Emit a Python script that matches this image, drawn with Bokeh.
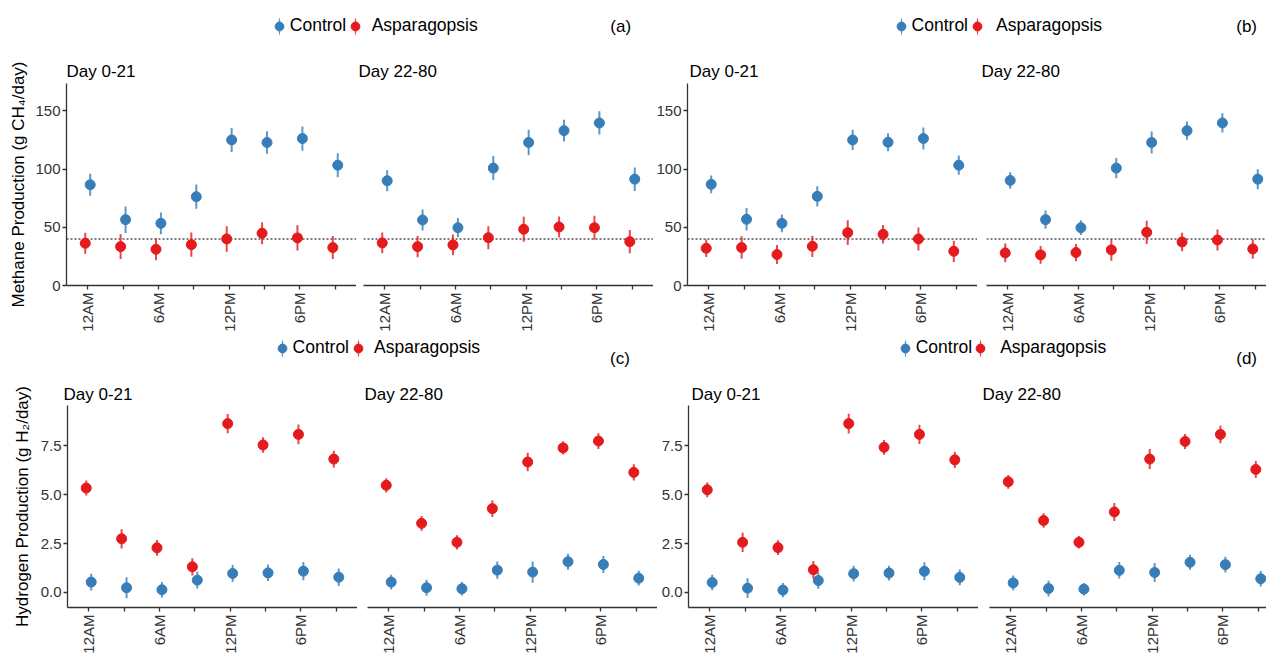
import numpy as np
from bokeh.plotting import figure
from bokeh.layouts import row, column
from bokeh.models import (ColumnDataSource, FixedTicker, Span, Label, Legend, LegendItem,
                          NumeralTickFormatter, BasicTickFormatter, Range1d, Title)
from bokeh.embed import file_html
from bokeh.resources import INLINE
from bokeh.transform import dodge

FONT = "Liberation Sans"
BLUE = "#377EB8"
RED = "#E41A1C"

# ---------------- data ----------------
times = ["12AM", "3AM", "6AM", "9AM", "12PM", "3PM", "6PM", "9PM"]
tick_labels = ["12AM", "", "6AM", "", "12PM", "", "6PM", ""]
groups = ["Control", "Asparagopsis"]
periods = ["Day 0-21", "Day 22-80"]

# (a) methane, g CH4/day
a_d1_ctrl = [86.6, 56.6, 53.4, 76.3, 125.1, 122.9, 126.3, 103.4]
a_d1_ctrl_se = [9.4, 11.4, 9.4, 10.4, 10.3, 9.7, 10.4, 10.3]
a_d1_asp = [36.3, 33.4, 31.1, 35.1, 40.0, 44.9, 40.9, 32.6]
a_d1_asp_se = [9.1, 10.7, 9.4, 10.4, 10.9, 9.4, 10.9, 9.9]
a_d2_ctrl = [90.0, 56.3, 49.7, 100.9, 122.9, 133.1, 139.7, 91.4]
a_d2_ctrl_se = [9.1, 9.1, 8.3, 10.3, 11.0, 9.4, 10.0, 10.1]
a_d2_asp = [36.6, 33.4, 34.9, 41.1, 48.3, 50.3, 49.7, 37.7]
a_d2_asp_se = [8.9, 9.1, 9.0, 9.9, 10.7, 9.1, 10.3, 9.9]

# (b) methane, g CH4/day
b_d1_ctrl = [86.9, 56.9, 53.4, 76.6, 125.1, 123.1, 126.3, 103.4]
b_d1_ctrl_se = [7.6, 9.7, 7.7, 8.6, 8.7, 7.7, 9.4, 8.3]
b_d1_asp = [32.0, 32.6, 26.6, 33.7, 45.4, 44.0, 40.0, 29.4]
b_d1_asp_se = [7.6, 9.7, 8.1, 9.1, 10.7, 8.0, 9.9, 9.1]
b_d2_ctrl = [90.3, 56.6, 49.7, 100.9, 122.9, 133.1, 139.7, 91.4]
b_d2_ctrl_se = [7.1, 7.9, 6.3, 8.7, 9.4, 7.9, 8.3, 8.6]
b_d2_asp = [28.0, 26.3, 28.3, 30.6, 45.7, 37.4, 39.1, 31.4]
b_d2_asp_se = [8.1, 7.7, 7.4, 9.3, 10.0, 7.9, 9.0, 8.4]

# (c) hydrogen, g H2/day
c_d1_ctrl = [0.53, 0.24, 0.14, 0.63, 0.97, 1.00, 1.09, 0.78]
c_d1_ctrl_se = [0.43, 0.54, 0.40, 0.43, 0.43, 0.42, 0.46, 0.45]
c_d1_asp = [5.33, 2.74, 2.28, 1.31, 8.62, 7.53, 8.07, 6.81]
c_d1_asp_se = [0.38, 0.49, 0.40, 0.44, 0.49, 0.40, 0.50, 0.43]
c_d2_ctrl = [0.53, 0.24, 0.19, 1.14, 1.04, 1.57, 1.43, 0.73]
c_d2_ctrl_se = [0.38, 0.41, 0.34, 0.44, 0.54, 0.41, 0.43, 0.38]
c_d2_asp = [5.47, 3.53, 2.56, 4.28, 6.66, 7.38, 7.73, 6.13]
c_d2_asp_se = [0.36, 0.38, 0.36, 0.43, 0.47, 0.34, 0.40, 0.42]

# (d) hydrogen, g H2/day
d_d1_ctrl = [0.51, 0.22, 0.12, 0.61, 0.96, 0.99, 1.08, 0.77]
d_d1_ctrl_se = [0.40, 0.50, 0.36, 0.42, 0.40, 0.38, 0.46, 0.40]
d_d1_asp = [5.24, 2.56, 2.29, 1.16, 8.62, 7.41, 8.07, 6.77]
d_d1_asp_se = [0.38, 0.49, 0.38, 0.45, 0.51, 0.38, 0.49, 0.41]
d_d2_ctrl = [0.49, 0.20, 0.17, 1.13, 1.02, 1.54, 1.42, 0.70]
d_d2_ctrl_se = [0.38, 0.40, 0.32, 0.42, 0.48, 0.38, 0.40, 0.40]
d_d2_asp = [5.65, 3.67, 2.56, 4.11, 6.81, 7.71, 8.07, 6.28]
d_d2_asp_se = [0.35, 0.37, 0.32, 0.46, 0.51, 0.38, 0.45, 0.43]

methane_ticks = [0, 50, 100, 150]
hydrogen_ticks = [0.0, 2.5, 5.0, 7.5]
methane_reference = 40
methane_label = "Methane Production (g CH\u2084/day)"
hydrogen_label = "Hydrogen Production (g H\u2082/day)"

PX_PER_UNIT = 290 / 8.2


def make_facet(ctrl, ctrl_se, asp, asp_se, title, *, y_range, y_ticks, y_fmt,
               show_y, y_label, border_left, frame_w, frame_h, border_top,
               border_bottom, title_offset, title_standoff, ref_line,
               ylabel_standoff, ylabel_offset):
    x_end = -0.6 + frame_w / PX_PER_UNIT
    p = figure(frame_width=frame_w, frame_height=frame_h,
               x_range=Range1d(-0.6, x_end), y_range=Range1d(*y_range),
               toolbar_location=None, output_backend="svg", title=title,
               min_border_left=border_left, min_border_right=0,
               min_border_top=border_top, min_border_bottom=border_bottom,
               y_axis_location="left" if show_y else None,
               outline_line_color=None, background_fill_color="white",
               border_fill_color="white")
    p.grid.visible = False
    p.title.text_font = FONT
    p.title.text_font_size = "17px"
    p.title.text_font_style = "normal"
    p.title.text_color = "black"
    p.title.align = "left"
    p.title.offset = title_offset
    p.title.standoff = title_standoff

    x_idx = np.arange(len(times))
    if ref_line is not None:
        p.add_layout(Span(location=ref_line, dimension="width", line_color="#555555",
                          line_dash="2 2", line_width=1.5, level="underlay"))

    for mean, se, color, shift in ((ctrl, ctrl_se, BLUE, 0.07), (asp, asp_se, RED, -0.07)):
        m = np.array(mean)
        e = np.array(se)
        src = ColumnDataSource(dict(x=x_idx, mean=m, lo=m - e, hi=m + e))
        xd = dodge("x", shift, range=p.x_range)
        p.segment(x0=xd, y0="lo", x1=xd, y1="hi", source=src,
                  line_color=color, line_width=2, line_alpha=0.8)
        p.scatter(x=xd, y="mean", source=src, size=10, color=color)

    for ax in p.axis:
        ax.axis_line_color = "#333333"
        ax.axis_line_width = 1.3
        ax.major_tick_line_color = "#333333"
        ax.major_tick_line_width = 1.3
        ax.major_tick_out = 4
        ax.major_tick_in = 0
        ax.minor_tick_line_color = None
        ax.major_label_text_font = FONT
        ax.major_label_text_font_size = "15px"
        ax.major_label_text_color = "#333333"

    p.xaxis.ticker = FixedTicker(ticks=list(range(len(times))))
    p.xaxis.major_label_overrides = {i: lab for i, lab in enumerate(tick_labels)}
    p.xaxis.major_label_orientation = np.pi / 2
    p.xaxis.major_label_standoff = 3

    if show_y:
        p.yaxis.ticker = FixedTicker(ticks=y_ticks)
        p.yaxis.formatter = y_fmt
        p.yaxis.major_label_standoff = 2
        if y_label:
            # y-axis title as a side title, so it can sit slightly above centre
            p.add_layout(Title(text=y_label, align="center", offset=ylabel_offset,
                               standoff=ylabel_standoff, text_font=FONT,
                               text_font_size="17px", text_font_style="normal",
                               text_color="black"), "left")
    return p


def make_header(width, height, cy, ctrl_cx, ctrl_standoff, asp_cx, asp_standoff,
                tag, tag_x, tag_y):
    h = figure(width=width, height=height, x_range=Range1d(0, width),
               y_range=Range1d(0, height), toolbar_location=None,
               output_backend="svg", min_border=0, x_axis_location=None,
               y_axis_location=None, outline_line_color=None)
    h.grid.visible = False
    GW = 22
    for name, color, cx, st in ((groups[0], BLUE, ctrl_cx, ctrl_standoff),
                                (groups[1], RED, asp_cx, asp_standoff)):
        # legend key proxies (nothing visible in the header itself):
        # a thin upright ellipse for the error-bar stroke, a dot for the mean
        er = h.ellipse(x=[np.nan], y=[np.nan], width=2, height=20,
                       width_units="screen", height_units="screen",
                       fill_color=color, fill_alpha=0.8, line_color=None)
        sr = h.scatter(x=[np.nan], y=[np.nan], marker="circle", size=10, color=color)
        leg = Legend(items=[LegendItem(label=name, renderers=[er, sr])],
                     location=(cx - GW / 2, height - cy - GW / 2),
                     orientation="horizontal", glyph_width=GW, glyph_height=GW,
                     label_height=GW, label_standoff=st, padding=0, margin=0,
                     spacing=0, border_line_color=None, background_fill_alpha=0,
                     label_text_font=FONT, label_text_font_size="17.5px",
                     label_text_color="black")
        h.add_layout(leg)
    h.add_layout(Label(x=tag_x, y=tag_y, text=tag, text_align="right",
                       text_baseline="middle", text_font=FONT,
                       text_font_size="17px", text_color="black"))
    return h


fmt_m = BasicTickFormatter()
fmt_h = NumeralTickFormatter(format="0.0")
top_common = dict(y_range=(0, 173.6), y_ticks=methane_ticks, frame_h=202,
                  border_top=35, border_bottom=51, title_standoff=5,
                  ref_line=methane_reference, ylabel_standoff=9, ylabel_offset=8)
bot_common = dict(y_range=(-0.767, 9.545), y_ticks=hydrogen_ticks, frame_h=202,
                  border_top=31, border_bottom=48, title_standoff=4,
                  ref_line=None, ylabel_standoff=11, ylabel_offset=11)

a1 = make_facet(a_d1_ctrl, a_d1_ctrl_se, a_d1_asp, a_d1_asp_se, periods[0], y_fmt=fmt_m,
                show_y=True, y_label=methane_label, border_left=66, frame_w=290,
                title_offset=0, **top_common)
a2 = make_facet(a_d2_ctrl, a_d2_ctrl_se, a_d2_asp, a_d2_asp_se, periods[1], y_fmt=fmt_m,
                show_y=False, y_label=None, border_left=7, frame_w=290,
                title_offset=-5, **top_common)
b1 = make_facet(b_d1_ctrl, b_d1_ctrl_se, b_d1_asp, b_d1_asp_se, periods[0], y_fmt=fmt_m,
                show_y=True, y_label=None, border_left=33, frame_w=290,
                title_offset=2, **top_common)
b2 = make_facet(b_d2_ctrl, b_d2_ctrl_se, b_d2_asp, b_d2_asp_se, periods[1], y_fmt=fmt_m,
                show_y=False, y_label=None, border_left=9, frame_w=281,
                title_offset=-5, **top_common)

c1 = make_facet(c_d1_ctrl, c_d1_ctrl_se, c_d1_asp, c_d1_asp_se, periods[0], y_fmt=fmt_h,
                show_y=True, y_label=hydrogen_label, border_left=67, frame_w=290,
                title_offset=-4, **bot_common)
c2 = make_facet(c_d2_ctrl, c_d2_ctrl_se, c_d2_asp, c_d2_asp_se, periods[1], y_fmt=fmt_h,
                show_y=False, y_label=None, border_left=10, frame_w=290,
                title_offset=-3, **bot_common)
d1 = make_facet(d_d1_ctrl, d_d1_ctrl_se, d_d1_asp, d_d1_asp_se, periods[0], y_fmt=fmt_h,
                show_y=True, y_label=None, border_left=31, frame_w=290,
                title_offset=3, **bot_common)
d2 = make_facet(d_d2_ctrl, d_d2_ctrl_se, d_d2_asp, d_d2_asp_se, periods[1], y_fmt=fmt_h,
                show_y=False, y_label=None, border_left=11, frame_w=277,
                title_offset=-7, **bot_common)

ha = make_header(653, 48, 25.7, 278.8, -2, 354.7, 6, "(a)", 630.6, 22.3)
hb = make_header(613, 48, 25.7, 247.6, -1, 324.0, 8, "(b)", 603.5, 22.3)
hc = make_header(657, 38, 11.5, 281.6, -4, 358.0, 5, "(c)", 629.4, 15.7)
hd = make_header(609, 38, 11.5, 247.7, -1, 323.2, 9, "(d)", 599.5, 15.7)

layout = column(row(ha, hb), row(a1, a2, b1, b2), row(hc, hd), row(c1, c2, d1, d2))

open("out.html", "w").write(file_html(layout, INLINE))
